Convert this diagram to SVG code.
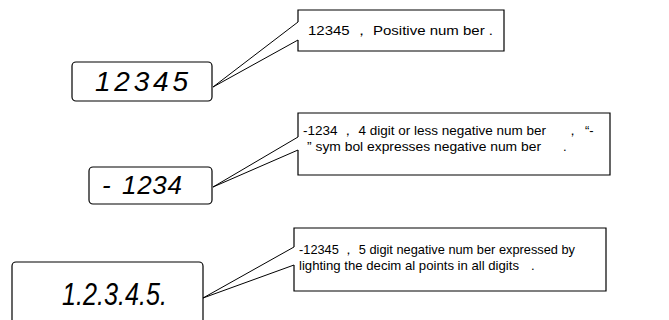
<svg xmlns="http://www.w3.org/2000/svg" width="669" height="320" viewBox="0 0 669 320">
<style>
.box{fill:#fff;stroke:#000;stroke-width:1.2}
.out{fill:none;stroke:#000;stroke-width:1.2}
.ptr{fill:none;stroke:#000;stroke-width:1}
.t{font-family:"Liberation Sans",Arial,sans-serif;font-size:13px;fill:#000}
.seg{font-family:"Liberation Sans",Arial,sans-serif;font-style:italic;fill:#000}
</style>
<rect width="669" height="320" fill="#fff"/>
<g id="connectors">
<polyline class="ptr" points="298,22 213,87 298,40"/>
<polyline class="ptr" points="298,137 213,187 298,150"/>
<polyline class="ptr" points="294,247 203,298 294,265"/>
</g>
<g id="display1">
<rect class="box" x="72" y="62" width="140" height="39" rx="4"/>
<text class="seg" x="95" y="91" font-size="28" textLength="93" lengthAdjust="spacing">12345</text>
</g>
<g id="callout1">
<rect x="298" y="10" width="206" height="41" fill="#fff"/>
<path class="out" d="M298,22 V10 H504 V51 H298 V40"/>
<text class="t" x="308" y="35" textLength="185" lengthAdjust="spacingAndGlyphs">12345  ，  Positive num ber  .</text>
</g>
<g id="display2">
<rect class="box" x="89" y="167" width="123" height="37" rx="4"/>
<text class="seg" x="102" y="194" font-size="26">-</text>
<text class="seg" x="122" y="194" font-size="26" textLength="60" lengthAdjust="spacing">1234</text>
</g>
<g id="callout2">
<rect x="298" y="113" width="312" height="62" fill="#fff"/>
<path class="out" d="M298,137 V113 H610 V175 H298 V150"/>
<text class="t" y="135"><tspan x="303" textLength="243" lengthAdjust="spacingAndGlyphs">-1234 ， 4 digit or less negative num ber</tspan><tspan x="566">，</tspan><tspan x="585">“-</tspan></text>
<text class="t" y="151"><tspan x="307" textLength="234" lengthAdjust="spacingAndGlyphs">” sym bol expresses negative num ber</tspan><tspan x="563">.</tspan></text>
</g>
<g id="display3">
<rect class="box" x="12" y="262" width="191" height="64" rx="4"/>
<text class="seg" x="62" y="305" font-size="32" textLength="105" lengthAdjust="spacingAndGlyphs">1.2.3.4.5.</text>
</g>
<g id="callout3">
<rect x="294" y="228" width="312" height="63" fill="#fff"/>
<path class="out" d="M294,247 V228 H606 V291 H294 V265"/>
<text class="t" y="254"><tspan x="299" textLength="276" lengthAdjust="spacingAndGlyphs">-12345 ， 5  digit  negative num ber expressed by</tspan></text>
<text class="t" y="270"><tspan x="299" textLength="220" lengthAdjust="spacingAndGlyphs">lighting the decim al points in all digits</tspan><tspan x="531">.</tspan></text>
</g>
</svg>
